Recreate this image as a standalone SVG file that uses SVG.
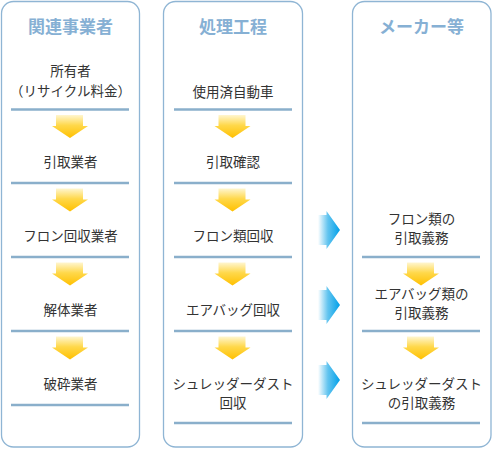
<svg xmlns="http://www.w3.org/2000/svg" width="492" height="449" viewBox="0 0 492 449">
<defs>
<style>
.col{fill:#fff;stroke:#8fb5d4;stroke-width:1.3}
.hd{font-family:"Noto Sans CJK JP","Noto Sans",sans-serif;font-size:17px;font-weight:bold;fill:#86b0d4;text-anchor:middle}
.t{font-family:"Noto Sans CJK JP","Noto Sans",sans-serif;font-size:13.5px;fill:#333;text-anchor:middle}
.ln{stroke:#8aafcb;stroke-width:2.5}
.ya{fill:url(#yg)}
.ba{fill:url(#bg)}
</style>
<linearGradient id="yg" x1="0" y1="0" x2="0" y2="1">
<stop offset="0" stop-color="#fff6d0"/>
<stop offset="0.45" stop-color="#ffd84a"/>
<stop offset="1" stop-color="#ffc000"/>
</linearGradient>
<linearGradient id="bg" x1="0" y1="0" x2="1" y2="0">
<stop offset="0" stop-color="#ffffff"/>
<stop offset="0.45" stop-color="#62c4ef"/>
<stop offset="1" stop-color="#00a0e9"/>
</linearGradient>
<path id="yarr" d="M-14,0 H13 V11 H18 L0,23 L-18,11 H-14 Z"/>
<path id="barr" d="M0,-15 H8.5 V-19 L22,0 L8.5,19 V15 H0 Z"/>
</defs>

<g id="col1">
<rect class="col" x="1.5" y="1.5" width="138" height="445.5" rx="12"/>
<text class="hd" x="70.5" y="33">関連事業者</text>
<text class="t" x="70.5" y="75.5">所有者</text>
<text class="t" x="70.5" y="95.5">（リサイクル料金）</text>
<line class="ln" x1="11" y1="109.5" x2="129" y2="109.5"/>
<text class="t" x="70.5" y="167">引取業者</text>
<line class="ln" x1="11" y1="183" x2="129" y2="183"/>
<text class="t" x="70.5" y="241">フロン回収業者</text>
<line class="ln" x1="11" y1="257" x2="129" y2="257"/>
<text class="t" x="70.5" y="315">解体業者</text>
<line class="ln" x1="11" y1="331" x2="129" y2="331"/>
<text class="t" x="70.5" y="389">破砕業者</text>
<line class="ln" x1="11" y1="405" x2="129" y2="405"/>
</g>

<g id="col2">
<rect class="col" x="163.5" y="1.5" width="139" height="445.5" rx="12"/>
<text class="hd" x="233" y="33">処理工程</text>
<text class="t" x="233" y="97">使用済自動車</text>
<line class="ln" x1="174" y1="109.5" x2="292" y2="109.5"/>
<text class="t" x="233" y="167">引取確認</text>
<line class="ln" x1="174" y1="183" x2="292" y2="183"/>
<text class="t" x="233" y="241">フロン類回収</text>
<line class="ln" x1="174" y1="257" x2="292" y2="257"/>
<text class="t" x="233" y="315">エアバッグ回収</text>
<line class="ln" x1="174" y1="331" x2="292" y2="331"/>
<text class="t" x="233" y="389">シュレッダーダスト</text>
<text class="t" x="233" y="408">回収</text>
<line class="ln" x1="174" y1="423" x2="292" y2="423"/>
</g>

<g id="col3">
<rect class="col" x="352.5" y="1.5" width="138.5" height="445.5" rx="12"/>
<text class="hd" x="421.5" y="33">メーカー等</text>
<text class="t" x="421.5" y="224">フロン類の</text>
<text class="t" x="421.5" y="242.5">引取義務</text>
<line class="ln" x1="362" y1="257" x2="480" y2="257"/>
<text class="t" x="421.5" y="299">エアバッグ類の</text>
<text class="t" x="421.5" y="317.5">引取義務</text>
<line class="ln" x1="362" y1="331" x2="480" y2="331"/>
<text class="t" x="421.5" y="389">シュレッダーダスト</text>
<text class="t" x="421.5" y="408">の引取義務</text>
<line class="ln" x1="362" y1="423" x2="480" y2="423"/>
</g>

<g id="connectors">
<use href="#yarr" class="ya" x="70" y="115"/>
<use href="#yarr" class="ya" x="70" y="188.5"/>
<use href="#yarr" class="ya" x="70" y="262.5"/>
<use href="#yarr" class="ya" x="70" y="336.5"/>
<use href="#yarr" class="ya" x="232.5" y="115"/>
<use href="#yarr" class="ya" x="232.5" y="188.5"/>
<use href="#yarr" class="ya" x="232.5" y="262.5"/>
<use href="#yarr" class="ya" x="232.5" y="336.5"/>
<use href="#yarr" class="ya" x="421" y="262.5"/>
<use href="#yarr" class="ya" x="421" y="336.5"/>
<use href="#barr" class="ba" x="318" y="230"/>
<use href="#barr" class="ba" x="318" y="305"/>
<use href="#barr" class="ba" x="318" y="380"/>
</g>
</svg>
